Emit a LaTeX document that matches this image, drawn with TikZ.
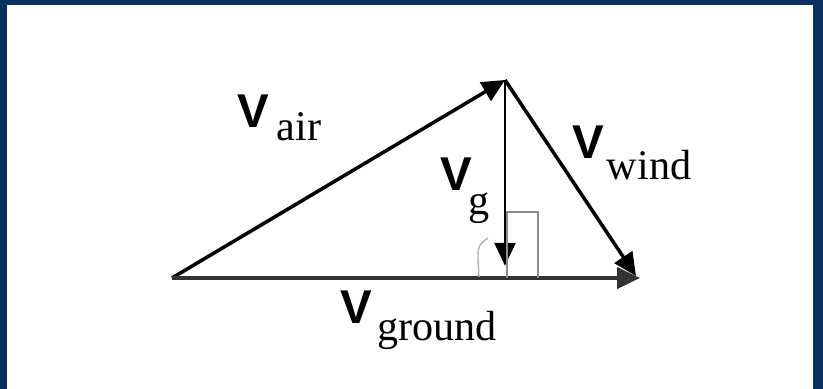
\documentclass[tikz,border=0pt]{standalone}
\usepackage{fontspec}
\setmainfont{Liberation Serif}
\newfontfamily\vfont{Liberation Sans}
\usetikzlibrary{positioning,arrows.meta}
\definecolor{navy}{RGB}{10,48,96}
% V with a lowered subscript word: [kern]{drop}{word}
\newcommand{\vsub}[3][2pt]{{\vfont\bfseries\fontsize{27}{27}\selectfont V}\kern#1\raisebox{-#2}{\fontsize{24}{24}\selectfont #3}}

\begin{document}
\begin{tikzpicture}[
  x=0.02cm,y=-0.02cm,
  vec/.style={line width=2pt,-{Triangle[length=13pt,width=12pt]}},
  lbl/.style={inner sep=0pt,anchor=base west}
]
\fill[navy] (0,0) rectangle (823,389);
\fill[white] (7,5) rectangle (813,389);
\coordinate (A) at (172,278);
\coordinate (T) at (505,80);
\coordinate (W) at (636,276);
\coordinate (G) at (640,278);
\coordinate (F) at (505,278);
\draw[vec] (A) -- (T);
\draw[vec] (T) -- (W);
\draw[vec,draw=black!80] (A) -- (G);
\draw[vec,line width=1.4pt,shorten >=7pt] (T) -- (F);
\draw[black!45,line width=1pt] (507,278) |- (538,212) -- (538,278);
\draw[black!30,line width=0.8pt] (488,238) .. controls (477,246) .. (479,277);
\node[lbl] (vair) at (237,127) {\vsub[4.5pt]{7.5pt}{air}};
\node[lbl] (vg) at (440,190) {\vsub[-2pt]{14pt}{g}};
\node[lbl] (vwind) at (572,158) {\vsub[1.7pt]{12.5pt}{wind}};
\node[lbl] (vground) at (340,323) {\vsub[3pt]{10pt}{ground}};
\end{tikzpicture}
\end{document}
